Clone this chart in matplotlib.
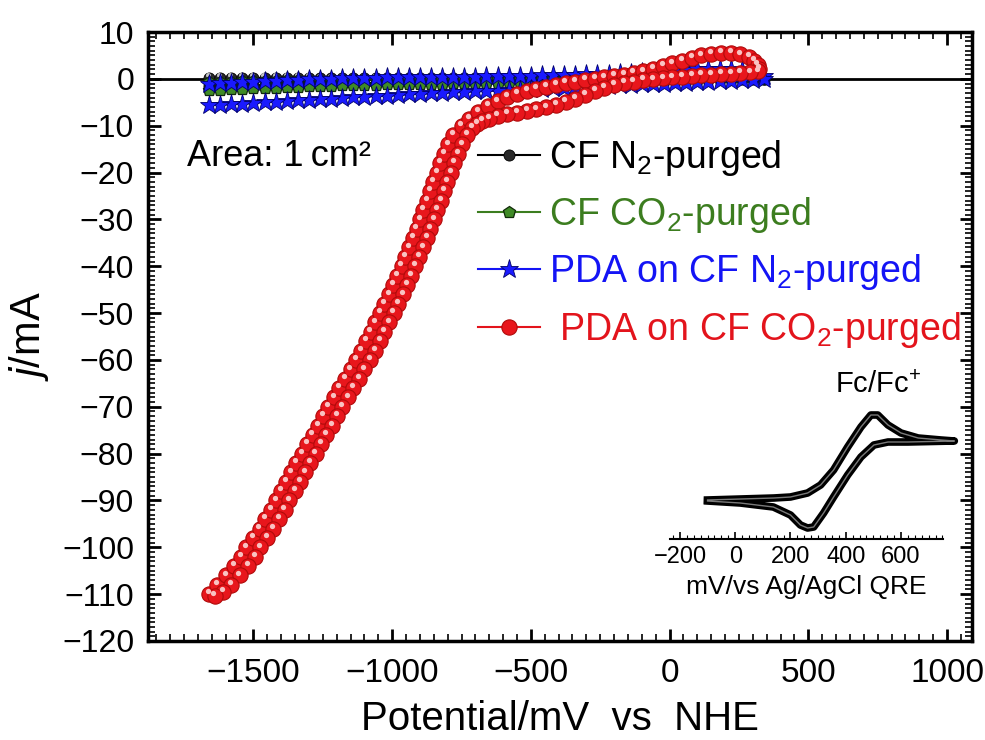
import numpy as np
import matplotlib
matplotlib.use("Agg")
import matplotlib.pyplot as plt
from matplotlib.ticker import MultipleLocator
from matplotlib.transforms import ScaledTranslation

plt.rcParams['font.family'] = ['Liberation Sans', 'DejaVu Sans']
plt.rcParams['mathtext.fontset'] = 'custom'
plt.rcParams['mathtext.rm'] = 'Liberation Sans'
plt.rcParams['mathtext.it'] = 'Liberation Sans:italic'
plt.rcParams['mathtext.bf'] = 'Liberation Sans:bold'

# ---------------- data (mV, mA) ----------------
scan_mv = [-1660, -1620, -1580, -1540, -1500, -1460, -1420, -1380, -1340, -1300,
           -1260, -1220, -1180, -1140, -1100, -1060, -1020, -980, -940, -900,
           -860, -820, -780, -740, -700, -660, -620, -580, -540, -500,
           -460, -420, -380, -340, -300, -260, -220, -180, -140, -100,
           -60, -20, 20, 60, 100, 140, 180, 220, 260, 300, 340]

cf_n2_fwd = [0.2, 0.2, 0.2, 0.2, 0.2, 0.2, 0.2, 0.2, 0.2, 0.2,
             0.1, 0.1, 0.1, 0.1, 0.1, 0.1, 0.1, 0.1, 0.1, 0.1,
             0.1, 0.1, 0.1, 0.1, 0.1, 0.1, 0.1, 0.1, 0.1, 0.1,
             0.1, 0.1, 0.1, 0.1, 0.1, 0.1, 0.1, 0.1, 0.1, 0.1,
             0.1, 0.1, 0.1, 0.1, 0.1, 0.1, 0.1, 0.1, 0.1, 0.1, 0.0]
cf_n2_rev = [-1.6, -1.5, -1.5, -1.4, -1.4, -1.3, -1.3, -1.2, -1.2, -1.1,
             -1.1, -1.0, -1.0, -0.9, -0.9, -0.9, -0.8, -0.8, -0.8, -0.7,
             -0.7, -0.7, -0.6, -0.6, -0.6, -0.5, -0.5, -0.5, -0.5, -0.4,
             -0.4, -0.4, -0.4, -0.3, -0.3, -0.3, -0.3, -0.2, -0.2, -0.2,
             -0.2, -0.1, -0.1, -0.1, -0.1, -0.1, 0.0, 0.0, 0.0, 0.0, 0.0]

cf_co2_fwd = [-0.7, -0.6, -0.6, -0.5, -0.5, -0.4, -0.4, -0.3, -0.3, -0.3,
              -0.2, -0.2, -0.2, -0.1, -0.1, -0.1, -0.1, 0.0, 0.0, 0.0,
              0.0, 0.0, 0.0, 0.0, 0.0, 0.0, 0.0, 0.0, 0.0, 0.0,
              0.0, 0.0, 0.0, 0.0, 0.0, 0.0, 0.0, 0.0, 0.0, 0.0,
              0.0, 0.0, 0.0, 0.0, 0.0, 0.1, 0.1, 0.1, 0.1, 0.1, 0.0]
cf_co2_rev = [-2.4, -2.3, -2.2, -2.1, -2.0, -1.9, -1.9, -1.8, -1.7, -1.6,
              -1.6, -1.5, -1.4, -1.4, -1.3, -1.3, -1.2, -1.2, -1.1, -1.1,
              -1.0, -1.0, -0.9, -0.9, -0.8, -0.8, -0.8, -0.7, -0.7, -0.7,
              -0.6, -0.6, -0.6, -0.5, -0.5, -0.5, -0.4, -0.4, -0.4, -0.3,
              -0.3, -0.3, -0.2, -0.2, -0.2, -0.1, -0.1, -0.1, -0.1, 0.0, 0.0]

pda_n2_fwd = [-1.0, -0.9, -0.8, -0.7, -0.6, -0.5, -0.4, -0.3, -0.2, -0.1,
              0.0, 0.0, 0.1, 0.1, 0.2, 0.2, 0.3, 0.3, 0.3, 0.4,
              0.4, 0.4, 0.5, 0.5, 0.5, 0.6, 0.6, 0.6, 0.7, 0.7,
              0.8, 0.8, 0.9, 0.9, 1.0, 1.0, 1.1, 1.2, 1.3, 1.4,
              1.5, 1.6, 1.7, 1.9, 2.0, 2.2, 2.2, 2.1, 1.8, 1.3, 0.6]
pda_n2_rev = [-5.6, -5.5, -5.4, -5.3, -5.1, -5.0, -4.9, -4.7, -4.6, -4.5,
              -4.3, -4.2, -4.1, -3.9, -3.8, -3.7, -3.6, -3.4, -3.3, -3.2,
              -3.1, -3.0, -2.9, -2.8, -2.7, -2.6, -2.5, -2.4, -2.3, -2.2,
              -2.1, -2.0, -1.9, -1.8, -1.7, -1.6, -1.5, -1.4, -1.3, -1.2,
              -1.1, -1.0, -0.9, -0.8, -0.7, -0.6, -0.5, -0.4, -0.3, -0.2, 0.0]

# PDA on CF, CO2-purged: outer branch (bottom -> right end), then inner branch (right end -> bottom)
pda_co2_x = [-1660, -1630, -1600, -1570, -1545, -1525, -1500, -1478, -1458, -1438,
             -1420, -1400, -1382, -1363, -1345, -1326, -1306, -1287, -1268, -1249,
             -1230, -1210, -1190, -1170, -1150, -1131, -1113, -1095, -1078, -1061,
             -1045, -1028, -1012, -996, -981, -966, -952, -938, -925, -912,
             -899, -887, -875, -863, -851, -839, -826, -812, -797, -780,
             -750, -722, -690, -655, -620, -585, -550, -515, -480, -445,
             -410, -375, -340, -305, -270, -235, -200, -165, -130, -95,
             -60, -25, 10, 45, 80, 115, 150, 185, 220, 255,
             285, 305, 317, 322,
             320, 290, 255, 220, 185, 150, 115, 80, 45, 10,
             -25, -60, -95, -130, -165, -200, -235, -270, -305, -340,
             -375, -410, -445, -480, -515, -550, -585, -620, -650, -675,
             -695, -712, -730, -747, -762, -776, -789, -801, -813, -825,
             -837, -849, -862, -875, -888, -902, -916, -931, -946, -962,
             -978, -995, -1011, -1028, -1045, -1063, -1081, -1100, -1120, -1140,
             -1160, -1180, -1199, -1218, -1237, -1256, -1276, -1295, -1313, -1332,
             -1350, -1370, -1388, -1408, -1428, -1450, -1475, -1495, -1520, -1550,
             -1580, -1610, -1640]
pda_co2_y = [-110.0, -108.0, -106.0, -104.0, -102.0, -100.0, -98.0, -96.0, -94.0, -92.0,
             -90.0, -88.0, -86.0, -84.0, -82.0, -80.0, -78.0, -76.0, -74.0, -72.0,
             -70.0, -68.0, -66.0, -64.0, -62.0, -60.0, -58.0, -56.0, -54.0, -52.0,
             -50.0, -48.0, -46.0, -44.0, -42.0, -40.0, -38.0, -36.0, -34.0, -32.0,
             -30.0, -28.0, -26.0, -24.0, -22.0, -20.0, -18.0, -16.0, -14.0, -12.0,
             -10.0, -8.5, -7.0, -5.8, -4.8, -3.9, -3.2, -2.6, -2.1, -1.7,
             -1.3, -0.9, -0.6, -0.3, 0.0, 0.3, 0.6, 0.9, 1.2, 1.6,
             2.1, 2.7, 3.3, 3.9, 4.5, 5.0, 5.4, 5.6, 5.5, 5.2,
             4.7, 3.9, 3.0, 2.2,
             1.6, 1.4, 1.2, 1.1, 1.0, 0.9, 0.8, 0.65, 0.5, 0.3,
             0.1, -0.1, -0.3, -0.6, -0.9, -1.3, -1.9, -2.6, -3.4, -4.2,
             -5.0, -5.6, -6.1, -6.5, -6.9, -7.2, -7.5, -7.9, -8.5, -9.0,
             -9.6, -10.5, -12.0, -14.0, -16.0, -18.0, -20.0, -22.0, -24.0, -26.0,
             -28.0, -30.0, -32.0, -34.0, -36.0, -38.0, -40.0, -42.0, -44.0, -46.0,
             -48.0, -50.0, -52.0, -54.0, -56.0, -58.0, -60.0, -62.0, -64.0, -66.0,
             -68.0, -70.0, -72.0, -74.0, -76.0, -78.0, -80.0, -82.0, -84.0, -86.0,
             -88.0, -90.0, -92.0, -94.0, -96.0, -98.0, -100.0, -102.0, -104.0, -106.0,
             -108.0, -109.5, -110.4]

# inset: Fc/Fc+ CV (mV vs Ag/AgCl QRE, arbitrary current units)
fc_mv = [-100, 20, 140, 200, 262, 309, 356, 407, 455, 491, 516, 553, 600, 662, 745, 793,
         625, 553, 502, 455, 407, 356, 320, 284, 262, 236, 200, 138, 18, -100]
fc_cur = [0, 1, 2, 3, 7, 15, 30, 53, 73, 85, 85, 75, 67, 62, 60, 59,
          58, 58, 55, 43, 25, 3, -13, -27, -28, -25, -15, -7, -3, -1]

labels = ['CF N$_2$-purged', 'CF CO$_2$-purged', 'PDA on CF N$_2$-purged',
          ' PDA on CF CO$_2$-purged']
text_colors = ['black', '#3c7d1f', '#1414f5', '#e3141c']

# ---------------- figure ----------------
fig = plt.figure(figsize=(9.85, 7.40), dpi=100)
ax = fig.add_axes([148 / 985, 1 - 641 / 740, (972 - 148) / 985, (641 - 32) / 740])

ax.axhline(0, color='black', lw=2, zorder=1)

sx = np.array(scan_mv)
loop_x = np.concatenate([sx, sx[::-1]])

def loop_y(fwd, rev):
    return np.concatenate([np.array(fwd), np.array(rev)[::-1]])

hl = ScaledTranslation(-0.8 / 72, 2.0 / 72, fig.dpi_scale_trans)

h1, = ax.plot(loop_x, loop_y(cf_n2_fwd, cf_n2_rev), '-', color='black', lw=1.5,
              marker='o', ms=8, mfc='#2a2a2a', mec='black', mew=0.6, zorder=3)
ax.plot(loop_x, loop_y(cf_n2_fwd, cf_n2_rev), 'o', ms=2.5, color='#c8c8c8',
        transform=ax.transData + hl, zorder=3.1)
h2, = ax.plot(loop_x, loop_y(cf_co2_fwd, cf_co2_rev), '-', color='#3c7d1f', lw=1.5,
              marker='p', ms=9, mfc='#3f8a26', mec='#102a08', mew=0.9, zorder=4)
h3, = ax.plot(loop_x, loop_y(pda_n2_fwd, pda_n2_rev), '-', color='#1414f5', lw=1.5,
              marker='*', ms=14, mfc='#1a1aff', mec='#00006a', mew=0.6, zorder=5)
h4, = ax.plot(pda_co2_x, pda_co2_y, '-', color='#e3141c', lw=1.5,
              marker='o', ms=11, mfc='#e8161c', mec='#b00a0a', mew=0.8, zorder=6)
ax.plot(pda_co2_x, pda_co2_y, 'o', ms=3.8, color='#f9c2c2', mew=0,
        transform=ax.transData + hl, zorder=6.1)

ax.set_xlim(-1880, 1090)
ax.set_ylim(-120, 10)
ax.xaxis.set_major_locator(MultipleLocator(500))
ax.xaxis.set_minor_locator(MultipleLocator(50))
ax.yaxis.set_major_locator(MultipleLocator(10))
ax.yaxis.set_minor_locator(MultipleLocator(1))
ax.tick_params(which='both', direction='in', top=True, right=True)
ax.tick_params(which='major', length=9, width=2)
ax.tick_params(which='minor', length=5, width=1.2)
ax.tick_params(axis='y', labelsize=23, pad=10)
ax.tick_params(axis='x', labelsize=24, pad=12)
for s in ax.spines.values():
    s.set_linewidth(2.5)

ax.set_xlabel('Potential/mV  vs  NHE', fontsize=29, labelpad=8)
ax.set_ylabel('$j$/mA', fontsize=30, labelpad=8)

ax.text(0.047, 0.795, 'Area: 1\u2009cm\u00b2', transform=ax.transAxes, fontsize=26,
        va='center', ha='left')

leg = ax.legend([h1, h2, h3, h4], labels, loc='upper left',
                bbox_to_anchor=(478 / 985, 1 - 138 / 740), bbox_transform=fig.transFigure,
                frameon=False, fontsize=27, handlelength=1.65, handletextpad=0.25,
                labelspacing=0.46, borderpad=0, borderaxespad=0, numpoints=1)
for t, c in zip(leg.get_texts(), text_colors):
    t.set_color(c)

ax.text(0.834, 0.42, 'Fc/Fc$^{+}$', transform=ax.transAxes, fontsize=21,
        va='center', ha='left')

# ---------------- inset ----------------
ins = fig.add_axes([670 / 985, 1 - 539 / 740, 273 / 985, 139 / 740])
ins.set_facecolor('none')
ins.plot(fc_mv, fc_cur, '-', color='black', lw=5.5, clip_on=False, solid_joinstyle='round')
ins.plot(fc_mv, fc_cur, '-', color='#7a7a7a', lw=1, clip_on=False)
ins.set_xlim(-236, 752)
ins.set_ylim(-39, 100)
for k in ('top', 'left', 'right'):
    ins.spines[k].set_visible(False)
ins.spines['bottom'].set_linewidth(1.5)
ins.set_yticks([])
ins.xaxis.set_major_locator(MultipleLocator(200))
ins.xaxis.set_minor_locator(MultipleLocator(25))
ins.tick_params(axis='x', which='both', direction='in', labelsize=17, pad=5)
ins.tick_params(axis='x', which='major', length=5, width=1.2)
ins.tick_params(axis='x', which='minor', length=3, width=0.8)
ins.set_xlabel('mV/vs Ag/AgCl QRE', fontsize=19, labelpad=5)

fig.savefig('out.png', dpi=100)
